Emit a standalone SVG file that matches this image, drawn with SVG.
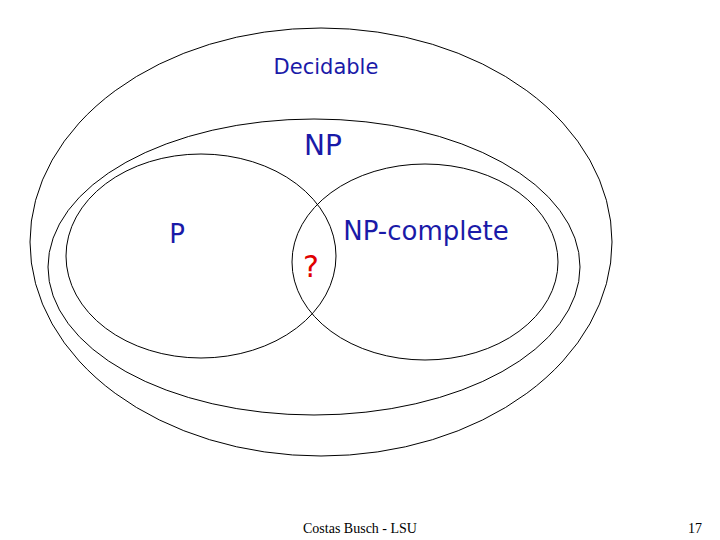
<svg xmlns="http://www.w3.org/2000/svg" width="720" height="540" viewBox="0 0 720 540">
<style>
.e{fill:none;stroke:#000;stroke-width:1}
.b{fill:#1a1aa8;font-family:"DejaVu Sans",sans-serif}
.f{fill:#000;font-family:"Liberation Serif",serif;font-size:14px}
</style>
<rect width="720" height="540" fill="#fff"/>
<g id="decidable"><ellipse class="e" cx="321" cy="242" rx="291" ry="214"/><text class="b" x="326" y="74" font-size="21" text-anchor="middle">Decidable</text></g>
<g id="np"><ellipse class="e" cx="314" cy="267" rx="266" ry="148"/><text class="b" x="323" y="155" font-size="28" text-anchor="middle">NP</text></g>
<g id="p"><ellipse class="e" cx="201" cy="256" rx="135" ry="102"/><text class="b" x="177" y="243" font-size="26" text-anchor="middle">P</text></g>
<g id="npc"><ellipse class="e" cx="425" cy="262" rx="133" ry="98"/><text class="b" x="426" y="240" font-size="26" text-anchor="middle">NP-complete</text></g>
<g id="q"><text x="311" y="277" font-size="30" fill="#e00000" font-family="DejaVu Sans,sans-serif" text-anchor="middle">?</text></g>
<g id="connectors"></g>
<text class="f" x="360" y="533" text-anchor="middle">Costas Busch - LSU</text>
<text class="f" x="695" y="533" text-anchor="middle">17</text>
</svg>
